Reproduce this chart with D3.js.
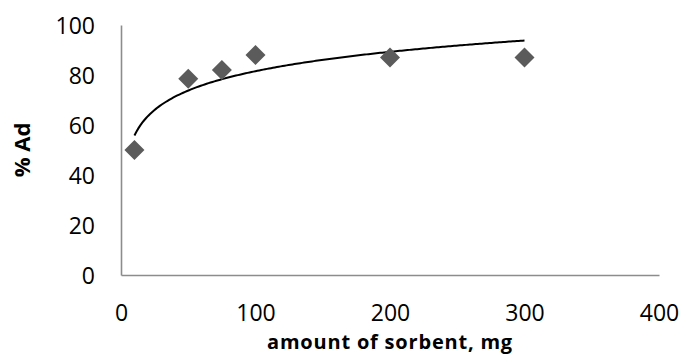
<!DOCTYPE html>
<html>
<head>
<meta charset="utf-8">
<script src="https://cdn.jsdelivr.net/npm/d3@7/dist/d3.min.js"></script>
<style>
  html, body { margin: 0; padding: 0; background: #fff; }
  svg { display: block; }
  text { font-family: "Open Sans", "Noto Sans", sans-serif; fill: #000; }
</style>
</head>
<body>
<svg id="chart" width="682" height="355"></svg>
<script>
// ---- data ----
const sorbentMg = [10, 50, 75, 100, 200, 300];
const percentAd = [50, 78.5, 82, 88, 87, 87];
const xTicks = [0, 100, 200, 300, 400];
const yTicks = [0, 20, 40, 60, 80, 100];
const xTitle = "amount of sorbent, mg";
const yTitle = "% Ad";

(function () {
// ---- layout ----
const mLeft = 121, mRight = 659, mTop = 25, mBottom = 275;

const svg = d3.select("#chart");
const x = d3.scaleLinear().domain([0, 400]).range([mLeft, mRight]);
const y = d3.scaleLinear().domain([0, 100]).range([mBottom, mTop]);

// axes
const yAxis = d3.axisLeft(y).tickValues(yTicks).tickSize(0).tickPadding(26);
const gy = svg.append("g").attr("transform", `translate(${mLeft},0)`).call(yAxis);
gy.select(".domain").attr("stroke", "#8c8c8c").attr("stroke-width", 1.6);
gy.selectAll("text").style("font-size", "23px").style("font-family", "'Open Sans', sans-serif").attr("dy", "0.36em");

const xAxis = d3.axisBottom(x).tickValues(xTicks).tickSize(0).tickPadding(46);
const gx = svg.append("g").attr("transform", `translate(0,${mBottom})`).call(xAxis);
gx.select(".domain").attr("stroke", "#8c8c8c").attr("stroke-width", 1.6);
gx.selectAll("text").style("font-size", "23px").style("font-family", "'Open Sans', sans-serif").attr("dy", "0");

// log trendline (least squares: y = a ln x + b)
const lx = sorbentMg.map(Math.log);
const mx = d3.mean(lx), my = d3.mean(percentAd);
const a = d3.sum(lx, (v, i) => (v - mx) * (percentAd[i] - my)) / d3.sum(lx, v => (v - mx) ** 2);
const b = my - a * mx;
const xMin = d3.min(sorbentMg), xMax = d3.max(sorbentMg);
const trendX = d3.range(0, 201).map(i => xMin + (xMax - xMin) * i / 200);
svg.append("path")
  .datum(trendX)
  .attr("fill", "none")
  .attr("stroke", "#000")
  .attr("stroke-width", 2)
  .attr("d", d3.line().x(d => x(d)).y(d => y(a * Math.log(d) + b)));

// markers (diamonds)
const sym = d3.symbol().type(d3.symbolSquare).size(200);
svg.append("g").selectAll("path")
  .data(sorbentMg.map((v, i) => [v, percentAd[i]]))
  .join("path")
  .attr("d", sym)
  .attr("fill", "#5b5b5b")
  .attr("transform", d => `translate(${x(d[0])},${y(d[1])}) rotate(45)`);

// titles
svg.append("text")
  .attr("x", (mLeft + mRight) / 2)
  .attr("y", 349)
  .attr("text-anchor", "middle")
  .style("font-size", "20px")
  .style("font-weight", "bold")
  .style("letter-spacing", "0.8px")
  .text(xTitle);

svg.append("text")
  .attr("transform", `translate(30,${(mTop + mBottom) / 2}) rotate(-90)`)
  .attr("text-anchor", "middle")
  .style("font-size", "22px")
  .style("font-weight", "bold")
  .text(yTitle);
})();
</script>
</body>
</html>
